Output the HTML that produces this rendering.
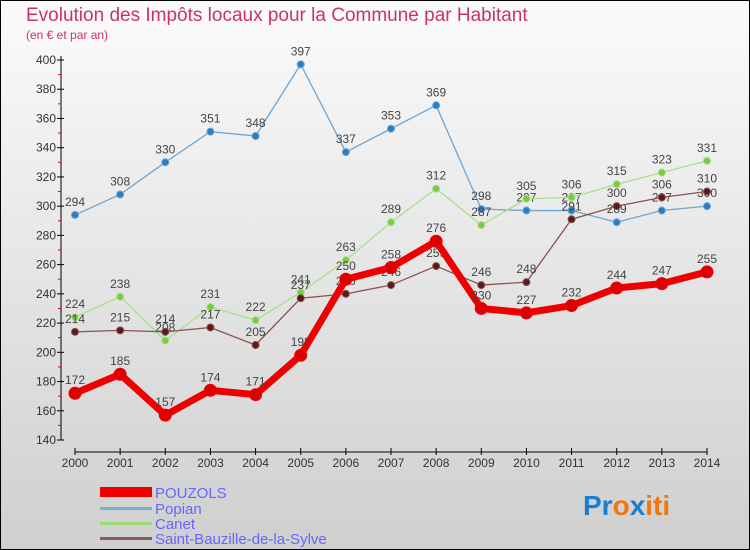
<!DOCTYPE html>
<html><head><meta charset="utf-8"><style>
body{margin:0}
#c{width:750px;height:550px;position:relative;overflow:hidden;font-family:"Liberation Sans",sans-serif}
</style></head><body>
<div id="c">
<svg id="s" width="750" height="550" xmlns="http://www.w3.org/2000/svg">
<defs><linearGradient id="bg" x1="0" y1="0" x2="0" y2="1"><stop offset="0" stop-color="#fbfbfb"/><stop offset="1" stop-color="#cfcfcf"/></linearGradient></defs>
<rect x="0.5" y="0.5" width="749" height="549" fill="url(#bg)" stroke="#000"/>
<text x="26" y="21" font-size="19" fill="#c8336a">Evolution des Impôts locaux pour la Commune par Habitant</text>
<text x="26" y="39" font-size="12" fill="#c8336a">(en € et par an)</text>
<g id="axes"></g><g id="series"></g>
<g>
<rect x="100" y="487" width="52" height="10" fill="#e00"/>
<text x="155" y="498" font-size="15" fill="#6666ff">POUZOLS</text>
<rect x="100" y="507" width="52" height="3" fill="#7aaed0"/>
<text x="155" y="514" font-size="15" fill="#6666ff">Popian</text>
<rect x="100" y="522" width="52" height="3" fill="#99dd77"/>
<text x="155" y="529" font-size="15" fill="#6666ff">Canet</text>
<rect x="100" y="537" width="52" height="3" fill="#8b5a5a"/>
<text x="155" y="544" font-size="15" fill="#6666ff">Saint-Bauzille-de-la-Sylve</text>
</g>
<text x="583" y="515" font-size="28" font-weight="bold"><tspan fill="#1a7ed0">Pr</tspan><tspan fill="#ee7711">o</tspan><tspan fill="#1a7ed0">x</tspan><tspan fill="#ee7711">iti</tspan></text>
</svg></div>
<script>
const years=[2000,2001,2002,2003,2004,2005,2006,2007,2008,2009,2010,2011,2012,2013,2014];
const yTicks=[140,160,180,200,220,240,260,280,300,320,340,360,380,400];
const pouzols=[172,185,157,174,171,198,250,258,276,230,227,232,244,247,255];
const popian=[294,308,330,351,348,397,337,353,369,298,297,297,289,297,300];
const canet=[224,238,208,231,222,241,263,289,312,287,305,306,315,323,331];
const saint=[214,215,214,217,205,237,240,246,259,246,248,291,300,306,310];
const NS='http://www.w3.org/2000/svg';
const x=i=>75+i*(707-75)/(years.length-1);
const y=v=>440-(v-140)*(380/260);
function mk(t,a,p){const e=document.createElementNS(NS,t);for(const k in a)e.setAttribute(k,a[k]);p.appendChild(e);return e;}
const ax=document.getElementById('axes');
let e=mk('line',{x1:61,y1:56,x2:61,y2:440,stroke:'#000'},ax);


yTicks.forEach((v,i)=>{mk('line',{x1:57,y1:y(v),x2:64,y2:y(v),stroke:'#000'},ax);
 if(i<yTicks.length-1)mk('line',{x1:58,y1:y(v+10),x2:61,y2:y(v+10),stroke:'#e00'},ax);
 const t=mk('text',{x:56,y:y(v)+4,'font-size':12,fill:'#333','text-anchor':'end'},ax);t.textContent=v;
 
 });
e=mk('line',{x1:75,y1:452,x2:707,y2:452,stroke:'#000'},ax);


years.forEach((yr,i)=>{mk('line',{x1:x(i),y1:448,x2:x(i),y2:455,stroke:'#000'},ax);
 const t=mk('text',{x:x(i),y:467,'font-size':12,fill:'#333','text-anchor':'middle'},ax);t.textContent=yr;
 
 });
const sg=document.getElementById('series');
function draw(d,name,col,dot,w,r){
 const g=mk('g',{},sg);
 
 
 mk('polyline',{points:d.map((v,i)=>x(i)+','+y(v)).join(' '),fill:'none',stroke:col,'stroke-width':w,'stroke-linejoin':'round'},g);
 d.forEach((v,i)=>{const c=mk('circle',{cx:x(i),cy:y(v),r:r,fill:dot,stroke:col,'stroke-width':1},g);
  
  
  const t=mk('text',{x:x(i),y:y(v)-9,'font-size':12,fill:'#444','text-anchor':'middle'},g);t.textContent=v;
  
  });
}
draw(popian,'popian','#6aa6d6','#2b7dc0',1.3,3.5);
draw(canet,'canet','#a8e088','#77cc44',1.3,3.5);
draw(saint,'saint-bauzille','#8b5050','#5a1a1a',1.3,3.5);
draw(pouzols,'pouzols','#ee0000','#dd0000',7,6);
</script>
</body></html>
